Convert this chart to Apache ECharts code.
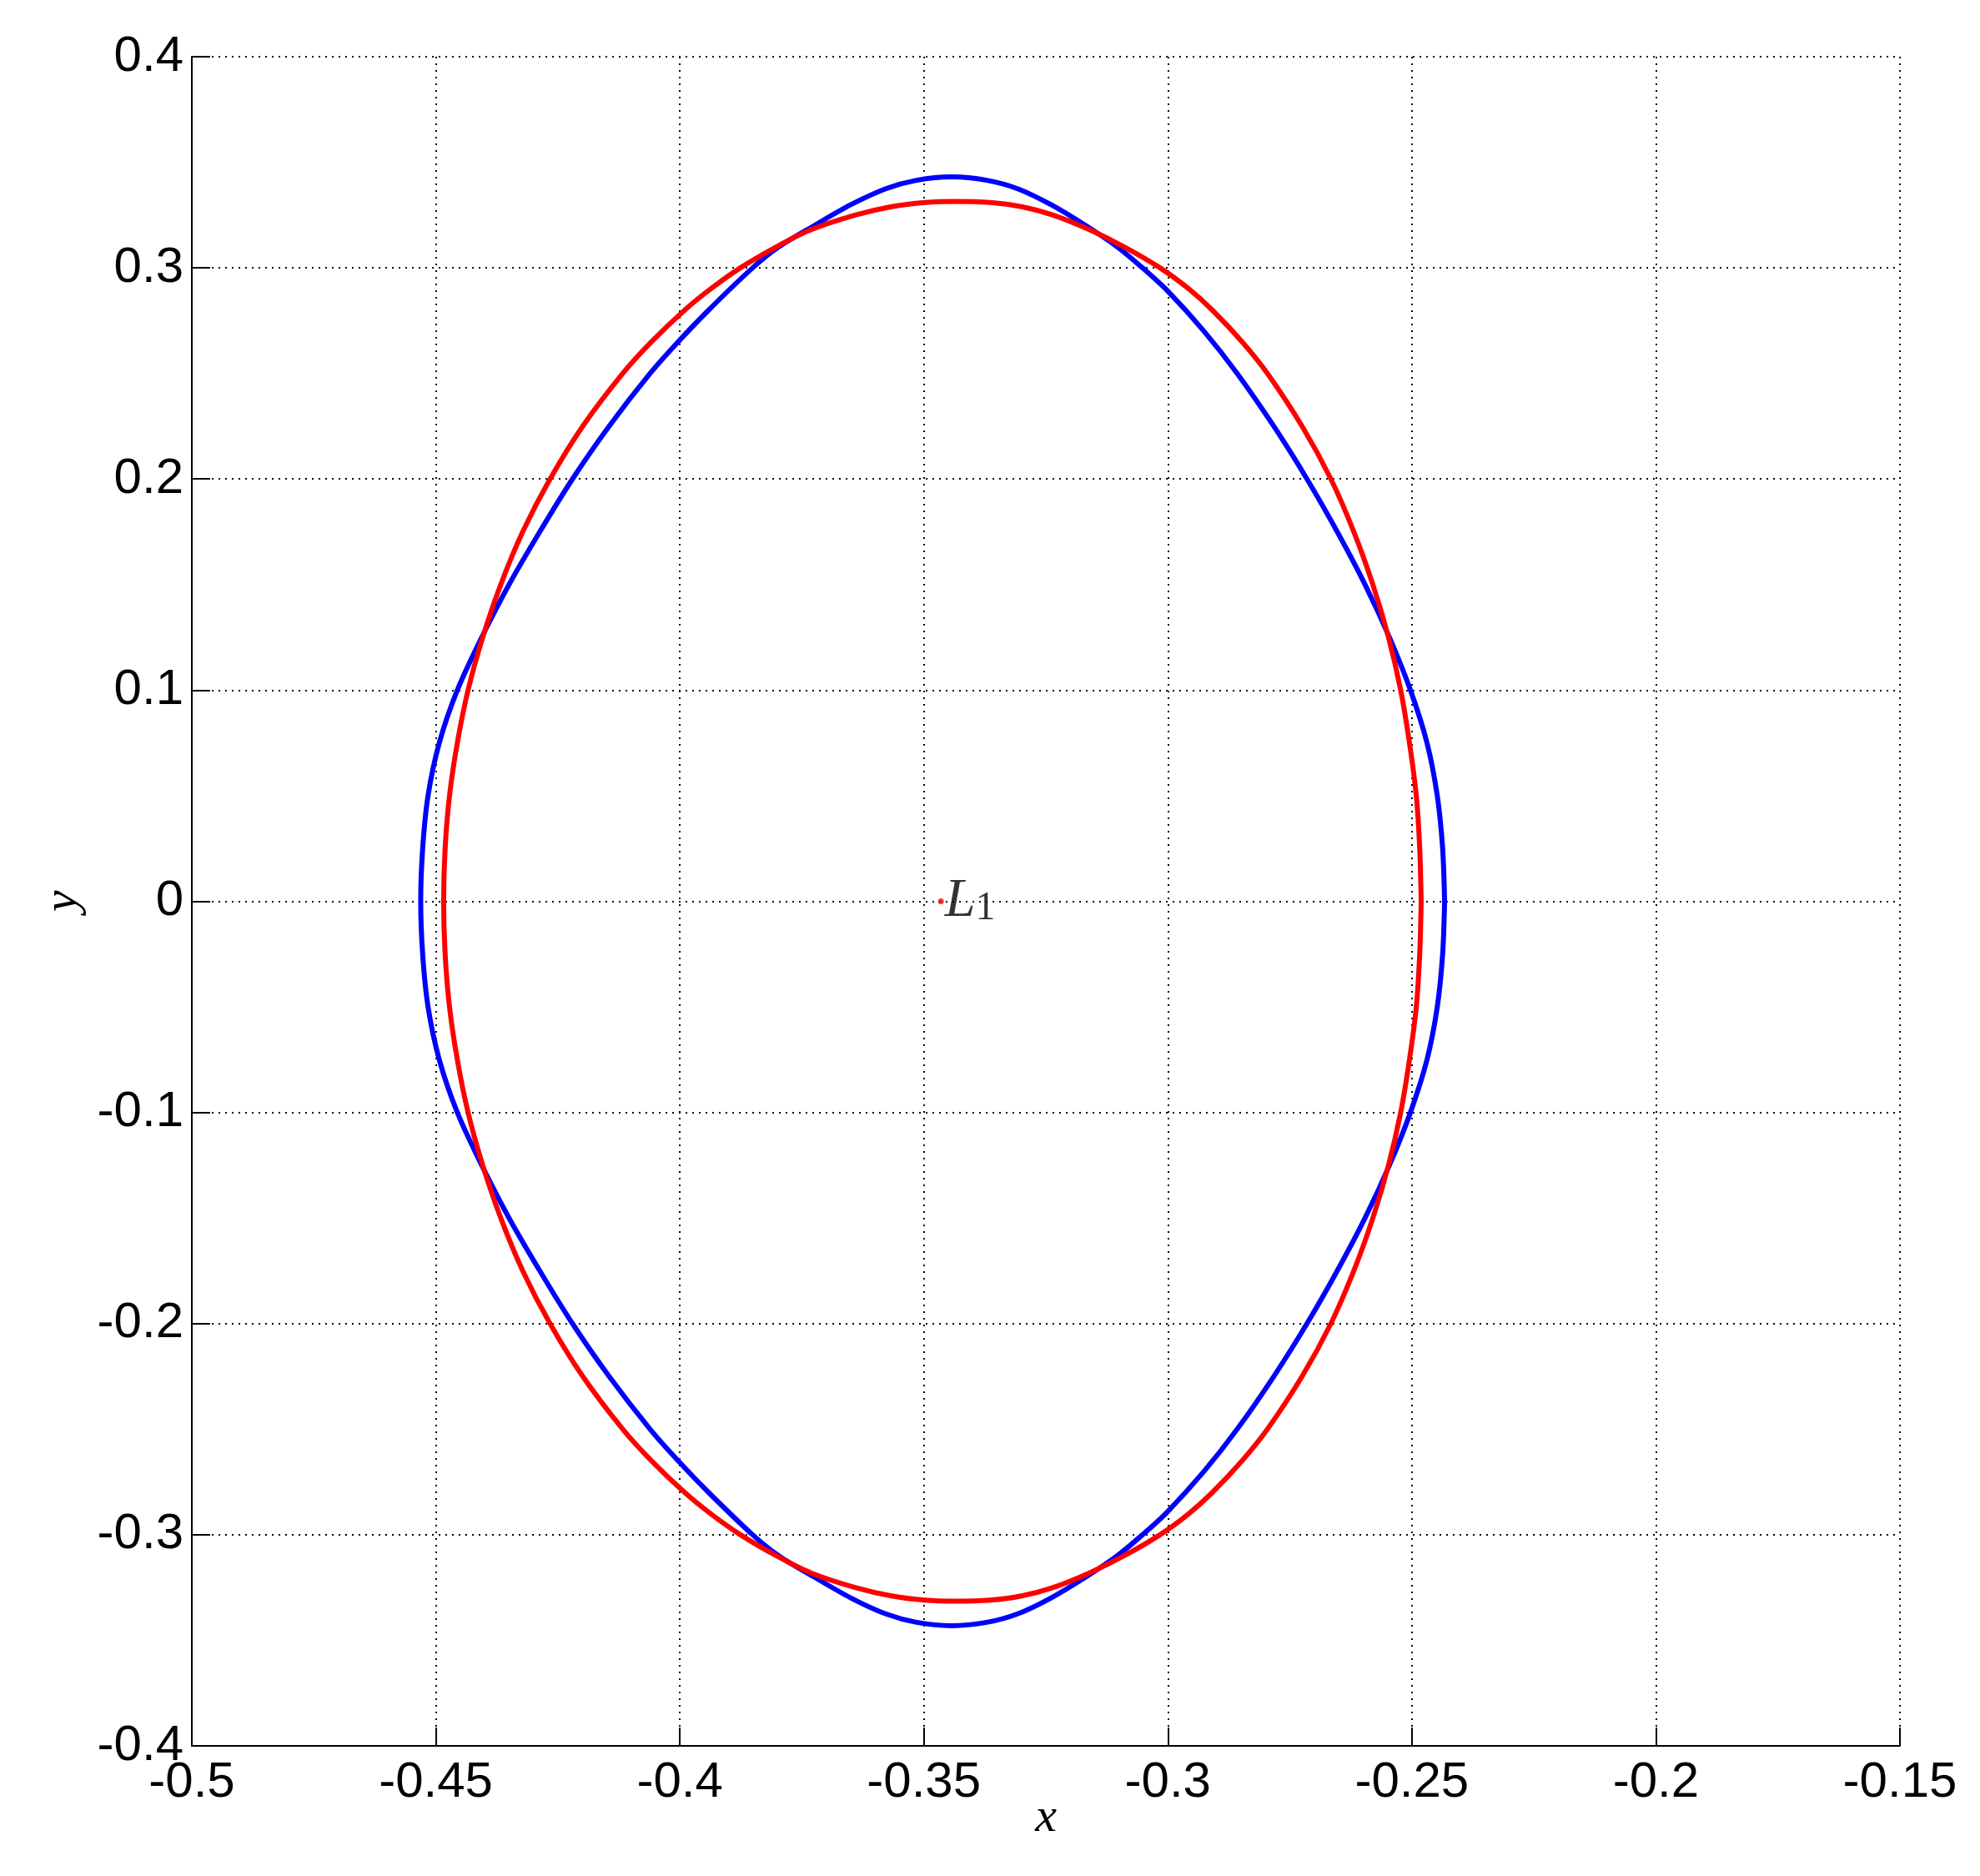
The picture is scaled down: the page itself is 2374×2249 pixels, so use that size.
<!DOCTYPE html>
<html>
<head>
<meta charset="utf-8">
<script src="https://cdn.jsdelivr.net/npm/echarts@6/dist/echarts.min.js"></script>
<style>
  html, body { margin: 0; padding: 0; background: #fff; }
  #chart { width: 2374px; height: 2249px; }
</style>
</head>
<body>
<div id="chart"></div>
<script>
// axis ticks
const xTicks = [-0.5, -0.45, -0.4, -0.35, -0.3, -0.25, -0.2, -0.15]
const yTicks = [-0.4, -0.3, -0.2, -0.1, 0, 0.1, 0.2, 0.3, 0.4]

// libration point
const l1Point = [-0.3465, 0]

// blue orbit (closed loop)
const blueOrbit = [
  [-0.2433, 0.000], [-0.2437, 0.025], [-0.2448, 0.050], [-0.2469, 0.075],
  [-0.2503, 0.100], [-0.2546, 0.125], [-0.2596, 0.150], [-0.2653, 0.175],
  [-0.2715, 0.200], [-0.2783, 0.225], [-0.2858, 0.250], [-0.2926, 0.270],
  [-0.3002, 0.2894], [-0.3052, 0.300], [-0.3104, 0.310], [-0.3168, 0.320],
  [-0.3240, 0.330], [-0.3308, 0.3375], [-0.3371, 0.3415], [-0.3443, 0.3431],
  [-0.3515, 0.3415], [-0.3578, 0.3375], [-0.3649, 0.330], [-0.3725, 0.320],
  [-0.3797, 0.310], [-0.3851, 0.300], [-0.3941, 0.280], [-0.4005, 0.2646],
  [-0.4061, 0.250], [-0.4145, 0.225], [-0.4220, 0.200], [-0.4287, 0.175],
  [-0.4350, 0.150], [-0.4406, 0.125], [-0.4456, 0.100], [-0.4493, 0.075],
  [-0.4516, 0.050], [-0.4527, 0.025], [-0.4531, 0.000],
  [-0.4527, -0.025], [-0.4516, -0.050], [-0.4493, -0.075], [-0.4456, -0.100],
  [-0.4406, -0.125], [-0.4350, -0.150], [-0.4287, -0.175], [-0.4220, -0.200],
  [-0.4145, -0.225], [-0.4061, -0.250], [-0.4005, -0.2646], [-0.3941, -0.280],
  [-0.3851, -0.300], [-0.3797, -0.310], [-0.3725, -0.320], [-0.3649, -0.330],
  [-0.3578, -0.3375], [-0.3515, -0.3415], [-0.3443, -0.3431], [-0.3371, -0.3415],
  [-0.3308, -0.3375], [-0.3240, -0.330], [-0.3168, -0.320], [-0.3104, -0.310],
  [-0.3052, -0.300], [-0.3002, -0.2894], [-0.2926, -0.270], [-0.2858, -0.250],
  [-0.2783, -0.225], [-0.2715, -0.200], [-0.2653, -0.175], [-0.2596, -0.150],
  [-0.2546, -0.125], [-0.2503, -0.100], [-0.2469, -0.075], [-0.2448, -0.050],
  [-0.2437, -0.025], [-0.2433, 0.000]
]

// red orbit (closed loop)
const redOrbit = [
  [-0.2481, 0.000], [-0.2484, 0.025], [-0.2491, 0.050], [-0.2505, 0.075],
  [-0.2523, 0.100], [-0.2548, 0.125], [-0.2580, 0.150], [-0.2619, 0.175],
  [-0.2666, 0.200], [-0.2725, 0.225], [-0.2796, 0.250], [-0.2848, 0.265],
  [-0.2909, 0.280], [-0.2957, 0.290], [-0.3016, 0.300], [-0.3090, 0.310],
  [-0.3160, 0.318], [-0.3235, 0.325], [-0.3300, 0.329], [-0.3364, 0.331],
  [-0.3436, 0.3315], [-0.3498, 0.331], [-0.3566, 0.329], [-0.3641, 0.325],
  [-0.3732, 0.318], [-0.3802, 0.310], [-0.3876, 0.300], [-0.3937, 0.290],
  [-0.3990, 0.280], [-0.4058, 0.265], [-0.4117, 0.250], [-0.4199, 0.225],
  [-0.4266, 0.200], [-0.4322, 0.175], [-0.4367, 0.150], [-0.4404, 0.125],
  [-0.4434, 0.100], [-0.4456, 0.075], [-0.4472, 0.050], [-0.4481, 0.025],
  [-0.4484, 0.000],
  [-0.4481, -0.025], [-0.4472, -0.050], [-0.4456, -0.075], [-0.4434, -0.100],
  [-0.4404, -0.125], [-0.4367, -0.150], [-0.4322, -0.175], [-0.4266, -0.200],
  [-0.4199, -0.225], [-0.4117, -0.250], [-0.4058, -0.265], [-0.3990, -0.280],
  [-0.3937, -0.290], [-0.3876, -0.300], [-0.3802, -0.310], [-0.3732, -0.318],
  [-0.3641, -0.325], [-0.3566, -0.329], [-0.3498, -0.331], [-0.3436, -0.3315],
  [-0.3364, -0.331], [-0.3300, -0.329], [-0.3235, -0.325], [-0.3160, -0.318],
  [-0.3090, -0.310], [-0.3016, -0.300], [-0.2957, -0.290], [-0.2909, -0.280],
  [-0.2848, -0.265], [-0.2796, -0.250], [-0.2725, -0.225], [-0.2666, -0.200],
  [-0.2619, -0.175], [-0.2580, -0.150], [-0.2548, -0.125], [-0.2523, -0.100],
  [-0.2505, -0.075], [-0.2491, -0.050], [-0.2484, -0.025], [-0.2481, 0.000]
]

const chart = echarts.init(document.getElementById('chart'))

const axisFont = { color: '#000', fontSize: 60, fontFamily: 'Liberation Sans' }
const mathFont = { color: '#000', fontSize: 58, fontFamily: 'Liberation Serif', fontStyle: 'italic' }
// matlab style dotted grid
const gridLine = { show: true, lineStyle: { type: [2, 6], color: '#000', width: 2 } }
const fmt = v => String(+v.toFixed(2))

const option = {
  animation: false,
  backgroundColor: '#fff',
  grid: { left: 230, right: 96, top: 68, bottom: 156 },
  xAxis: {
    type: 'value',
    min: xTicks[0],
    max: xTicks[xTicks.length - 1],
    interval: 0.05,
    name: 'x',
    nameLocation: 'middle',
    nameGap: 58,
    nameMoveOverlap: false,
    nameTextStyle: mathFont,
    axisLine: { show: true, onZero: false, lineStyle: { color: '#000', width: 2 } },
    axisTick: { show: true, inside: true, length: 22, lineStyle: { color: '#000', width: 2 } },
    axisLabel: Object.assign({ margin: 14, formatter: fmt }, axisFont),
    splitLine: gridLine
  },
  yAxis: {
    type: 'value',
    min: yTicks[0],
    max: yTicks[yTicks.length - 1],
    interval: 0.1,
    name: 'y',
    nameLocation: 'middle',
    nameGap: 125,
    nameRotate: 90,
    nameTextStyle: mathFont,
    axisLine: { show: true, onZero: false, lineStyle: { color: '#000', width: 2 } },
    axisTick: { show: true, inside: true, length: 22, lineStyle: { color: '#000', width: 2 } },
    axisLabel: Object.assign({ margin: 10, formatter: fmt }, axisFont),
    splitLine: gridLine
  },
  series: [
    {
      type: 'line',
      data: blueOrbit,
      showSymbol: false,
      smooth: 0.3,
      silent: true,
      lineStyle: { color: '#0000ff', width: 6 }
    },
    {
      type: 'line',
      data: redOrbit,
      showSymbol: false,
      smooth: 0.3,
      silent: true,
      lineStyle: { color: '#ff0000', width: 6 }
    },
    {
      type: 'scatter',
      data: [l1Point],
      symbolSize: 7,
      silent: true,
      itemStyle: { color: '#ff0000' },
      label: {
        show: true,
        position: 'right',
        distance: 1,
        formatter: '{a|L}{b|1}',
        rich: {
          a: { fontFamily: 'Liberation Serif', fontStyle: 'italic', fontSize: 66, color: '#000' },
          b: { fontFamily: 'Liberation Serif', fontSize: 48, color: '#000', verticalAlign: 'bottom' }
        }
      }
    }
  ]
}

chart.setOption(option)
window.addEventListener('resize', () => {
  chart.resize()
})
</script>
</body>
</html>
